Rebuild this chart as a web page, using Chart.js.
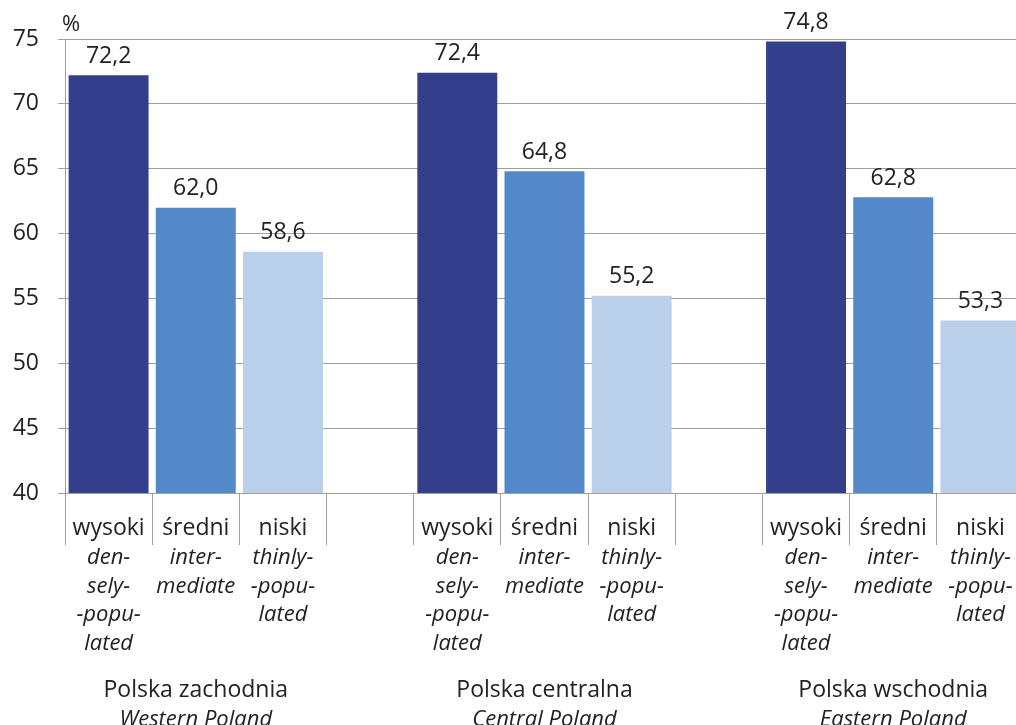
<!DOCTYPE html>
<html>
<head>
<meta charset="utf-8">
<script src="https://cdn.jsdelivr.net/npm/chart.js@4"></script>
<style>
  html, body { margin: 0; padding: 0; background: #fff; overflow: hidden; }
  #wrap { position: absolute; left: 0; top: 0; width: 1024px; height: 725px; }
</style>
</head>
<body>
<div id="wrap"><canvas id="chart" width="1024" height="725"></canvas></div>
<script>
// Chart data
const regionsPl = ['Polska zachodnia', 'Polska centralna', 'Polska wschodnia'];
const regionsEn = ['Western Poland', 'Central Poland', 'Eastern Poland'];
const densityPl = ['wysoki', 'średni', 'niski'];
const densityEn = [['den-', 'sely-', '-popu-', 'lated'], ['inter-', 'mediate'], ['thinly-', '-popu-', 'lated']];
const denselyPopulated = [72.2, 72.4, 74.8];
const intermediate = [62.0, 64.8, 62.8];
const thinlyPopulated = [58.6, 55.2, 53.3];
const yTicks = [40, 45, 50, 55, 60, 65, 70, 75];
const yUnit = '%';

const barColors = ['#333f8b', '#5389c8', '#b9cfea'];
const textColor = '#222222';
const gridColor = '#a0a0a0';
const FONT = "'Open Sans', 'DejaVu Sans', sans-serif";

// Build one slot per bar, with an empty slot between the regions
const series = [denselyPopulated, intermediate, thinlyPopulated];
const slotLabels = [];
const slotValues = [];
const slotColors = [];
const slotInfo = [];
regionsPl.forEach((region, g) => {
  densityPl.forEach((d, k) => {
    slotLabels.push(d);
    slotValues.push(series[k][g]);
    slotColors.push(barColors[k]);
    slotInfo.push({ group: g, density: k });
  });
  if (g < regionsPl.length - 1) {
    slotLabels.push('');
    slotValues.push(null);
    slotColors.push('transparent');
    slotInfo.push(null);
  }
});

const labelsPlugin = {
  id: 'customLabels',
  afterDatasetsDraw(chart) {
    const ctx = chart.ctx;
    const x = chart.scales.x;
    const area = chart.chartArea;
    ctx.save();
    ctx.fillStyle = textColor;

    // value labels
    ctx.font = '23px ' + FONT;
    ctx.textAlign = 'center';
    ctx.textBaseline = 'alphabetic';
    chart.getDatasetMeta(0).data.forEach((bar, i) => {
      const v = slotValues[i];
      if (v == null) return;
      ctx.fillText(v.toFixed(1).replace('.', ','), bar.x, bar.y - 12.5);
    });

    // unit
    ctx.font = '22px ' + FONT;
    ctx.textAlign = 'left';
    ctx.fillText(yUnit, area.left - 3, area.top - 8);

    // category labels
    ctx.textAlign = 'center';
    slotInfo.forEach((info, i) => {
      if (!info) return;
      const cx = x.getPixelForValue(i);
      ctx.font = '23px ' + FONT;
      ctx.fillText(densityPl[info.density], cx, area.bottom + 42);
      ctx.font = 'italic 22px ' + FONT;
      densityEn[info.density].forEach((line, j) => {
        ctx.fillText(line, cx, area.bottom + 71 + j * 28.5);
      });
    });

    // region labels
    regionsPl.forEach((region, g) => {
      const first = slotInfo.findIndex(s => s && s.group === g && s.density === 0);
      const last = slotInfo.findIndex(s => s && s.group === g && s.density === 2);
      const cx = (x.getPixelForValue(first) + x.getPixelForValue(last)) / 2;
      ctx.font = '23px ' + FONT;
      ctx.fillText(region, cx, area.bottom + 204);
      ctx.font = 'italic 22px ' + FONT;
      ctx.fillText(regionsEn[g], cx, area.bottom + 233);
    });
    ctx.restore();
  }
};

new Chart(document.getElementById('chart'), {
  type: 'bar',
  data: {
    labels: slotLabels,
    datasets: [{
      data: slotValues,
      backgroundColor: slotColors,
      borderWidth: 0,
      categoryPercentage: 1,
      barPercentage: 0.917
    }]
  },
  options: {
    responsive: false,
    animation: false,
    layout: { padding: { top: 39, left: 0, right: 0, bottom: 0 } },
    plugins: { legend: { display: false }, tooltip: { enabled: false } },
    scales: {
      x: {
        ticks: { display: false },
        grid: { offset: true, drawOnChartArea: false, drawTicks: true, tickLength: 52, color: gridColor, lineWidth: 1 },
        border: { display: true, color: gridColor, width: 1 },
        afterFit: s => { s.height = 232; }
      },
      y: {
        min: 40,
        max: 75,
        afterBuildTicks: s => { s.ticks = yTicks.map(v => ({ value: v })); },
        ticks: { color: textColor, font: { family: FONT, size: 23 }, padding: 19 },
        grid: { color: gridColor, lineWidth: 1, tickLength: 7 },
        border: { display: true, color: gridColor, width: 1 },
        afterFit: s => { s.width = 65; }
      }
    }
  },
  plugins: [labelsPlugin]
});
</script>
</body>
</html>
